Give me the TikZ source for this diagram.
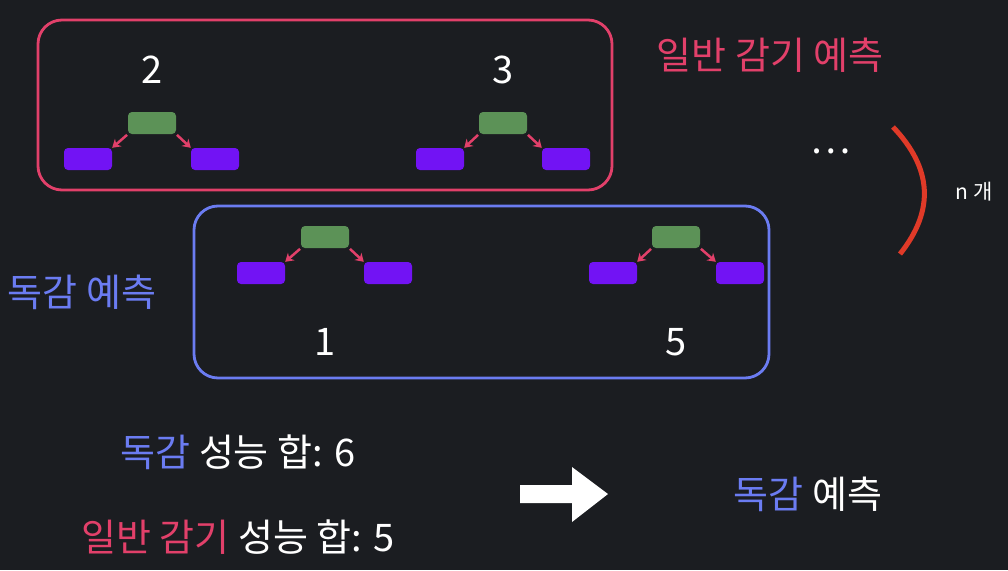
\documentclass[tikz,border=0pt]{standalone}
\usepackage{fontspec}
\setmainfont{Noto Sans CJK KR}
\usetikzlibrary{arrows.meta,positioning}
\definecolor{bgdark}{HTML}{1B1D21}
\definecolor{gamgi}{HTML}{E2406A}
\definecolor{dokgam}{HTML}{6B7CF2}
\definecolor{leafpurple}{HTML}{7213F4}
\definecolor{rootgreen}{HTML}{5C9257}
\definecolor{bracered}{HTML}{E03A28}

\begin{document}
\begin{tikzpicture}[x=1pt,y=-1pt,>=Stealth,
    rootbox/.style={fill=rootgreen,rounded corners=4pt,minimum width=48pt,minimum height=22pt,inner sep=0pt},
    leafbox/.style={fill=leafpurple,rounded corners=4pt,minimum width=48pt,minimum height=22pt,inner sep=0pt},
    treeedge/.style={->,gamgi,line width=2.5pt,shorten <=1pt,>={Stealth[length=8pt,width=10pt]}},
    groupbox/.style={line width=2.8pt,rounded corners=24pt},
    bigtxt/.style={white,font=\fontsize{38}{44}\selectfont,inner sep=0pt}]
        \fill[bgdark] (0,0) rectangle (1008,570);
        \useasboundingbox (0,0) rectangle (1008,570);
        % groups
        \draw[groupbox,gamgi] (38,20) rectangle (612,190);
        \draw[groupbox,dokgam] (194,206) rectangle (769,378);
        % trees
        \foreach \t/\cx/\cy/\num/\ly/\dl/\dr in {a/152/123/2/70/64/63,b/503/123/3/70/63/63,c/325/237/1/342/64/63,d/676/237/5/342/63/64}{
            \node[rootbox] (r\t) at (\cx,\cy) {};
            \node[leafbox] (ll\t) at (\cx-\dl,\cy+36) {};
            \node[leafbox] (lr\t) at (\cx+\dr,\cy+36) {};
            \node[bigtxt] (n\t) at (\cx,\ly) {\num};
            \draw[treeedge] (r\t.south west) -- (ll\t.north east);
            \draw[treeedge] (r\t.south east) -- (lr\t.north west);
        }
        \node[bigtxt,gamgi] (gamgilbl) at (770,55) {일반 감기 예측};
        \node[bigtxt,dokgam] (dokgamlbl) at (82,292) {독감 예측};
        \node[bigtxt] (dots) at (831,151) {…};
        % n trees
        \draw[bracered,line width=5pt] (893,127) .. controls (932,168) and (935,210) .. (900,254);
        \node[white,font=\fontsize{21}{24}\selectfont] (ncount) at (974,192) {n 개};
        \node[bigtxt] (sumdokgam) at (238,452) {\textcolor{dokgam}{독감} 성능 합: 6};
        \node[bigtxt] (sumgamgi) at (238,537) {\textcolor{gamgi}{일반 감기} 성능 합: 5};
        \fill[white] (520,485) -- (572,485) -- (572,467) -- (608,494) -- (572,522) -- (572,503) -- (520,503) -- cycle;
        \node[bigtxt] (result) at (808,494) {\textcolor{dokgam}{독감} 예측};
\end{tikzpicture}
\end{document}
